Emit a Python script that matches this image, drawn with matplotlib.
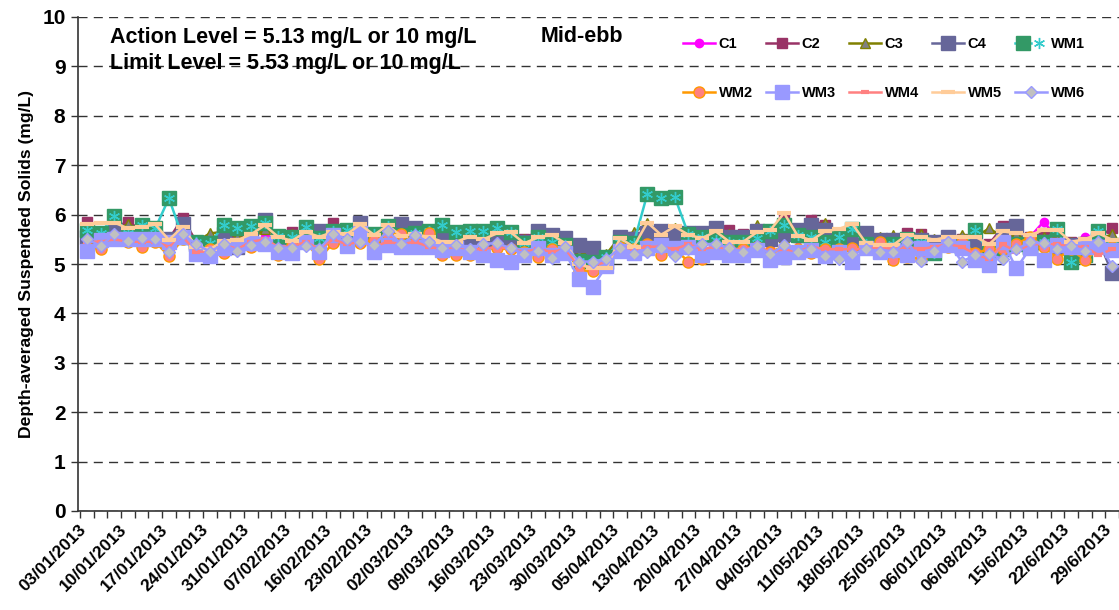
import matplotlib
matplotlib.use("Agg")
import matplotlib.pyplot as plt
from matplotlib.legend_handler import HandlerTuple

plt.rcParams['font.family'] = ['Liberation Sans', 'DejaVu Sans']
plt.rcParams['font.weight'] = 'bold'

dates = ["03/01/2013", "10/01/2013", "17/01/2013", "24/01/2013", "31/01/2013",
         "07/02/2013", "16/02/2013", "23/02/2013", "02/03/2013", "09/03/2013",
         "16/03/2013", "23/03/2013", "30/03/2013", "05/04/2013", "13/04/2013",
         "20/04/2013", "27/04/2013", "04/05/2013", "11/05/2013", "18/05/2013",
         "25/05/2013", "06/01/2013", "06/08/2013", "15/6/2013", "22/6/2013",
         "29/6/2013"]
n_points = 76

C1 = [5.55,5.58,5.62,5.55,5.55,5.50,5.45,5.55,5.40,5.40,5.50,5.45,5.45,5.55,5.50,
      5.50,5.55,5.45,5.55,5.50,5.55,5.45,5.55,5.50,5.55,5.45,5.50,5.45,5.45,5.45,
      5.50,5.45,5.40,5.50,5.45,5.40,5.15,5.20,5.10,5.45,5.45,5.55,5.55,5.50,5.50,
      5.45,5.50,5.50,5.45,5.50,5.39,5.55,5.50,5.55,5.55,5.45,5.45,5.45,5.40,5.45,
      5.45,5.50,5.40,5.50,5.45,5.40,5.40,5.55,5.50,5.55,5.86,5.50,5.45,5.55,5.45,5.50]
C2 = [5.86,5.65,5.75,5.85,5.70,5.65,5.50,5.93,5.45,5.40,5.60,5.50,5.45,5.80,5.55,
      5.64,5.60,5.60,5.84,5.60,5.65,5.55,5.65,5.62,5.65,5.55,5.61,5.55,5.55,5.55,
      5.60,5.55,5.50,5.68,5.55,5.55,5.18,5.25,5.10,5.50,5.55,5.60,5.62,5.60,5.55,
      5.55,5.60,5.69,5.60,5.60,5.55,5.96,5.60,5.89,5.79,5.50,5.55,5.55,5.50,5.50,
      5.62,5.60,5.45,5.55,5.50,5.45,5.40,5.76,5.60,5.55,5.62,5.50,5.45,5.45,5.55,5.72]
C3 = [5.65,5.60,5.70,5.80,5.70,5.60,5.45,5.70,5.45,5.62,5.65,5.55,5.50,5.70,5.60,
      5.60,5.72,5.55,5.60,5.60,5.65,5.55,5.80,5.58,5.60,5.55,5.72,5.55,5.55,5.55,
      5.60,5.55,5.50,5.60,5.55,5.50,5.20,5.25,5.20,5.55,5.64,5.82,5.62,5.72,5.60,
      5.55,5.55,5.60,5.55,5.78,5.55,5.55,5.55,5.78,5.82,5.55,5.55,5.50,5.55,5.59,
      5.55,5.60,5.50,5.50,5.59,5.55,5.72,5.55,5.60,5.50,5.55,5.50,5.45,5.45,5.50,5.60]
C4 = [5.55,5.60,5.68,5.62,5.60,5.55,5.50,5.80,5.40,5.35,5.60,5.35,5.50,5.90,5.50,
      5.50,5.62,5.66,5.55,5.55,5.82,5.50,5.60,5.80,5.72,5.55,5.55,5.50,5.55,5.50,
      5.50,5.45,5.45,5.66,5.59,5.52,5.38,5.33,5.05,5.55,5.50,5.62,5.66,5.59,5.62,
      5.62,5.72,5.55,5.55,5.66,5.50,5.60,5.69,5.79,5.69,5.50,5.40,5.62,5.49,5.49,
      5.49,5.49,5.45,5.55,5.45,5.40,5.25,5.69,5.76,5.35,5.45,5.35,5.38,5.40,5.49,4.81]
WM1 = [5.69,5.62,5.98,5.62,5.78,5.72,6.33,5.55,5.45,5.42,5.78,5.72,5.76,5.84,5.57,
       5.55,5.74,5.52,5.66,5.69,5.60,5.60,5.76,5.59,5.62,5.66,5.79,5.64,5.66,5.66,
       5.72,5.64,5.42,5.54,5.45,5.38,5.07,5.05,5.15,5.45,5.42,6.42,6.33,6.36,5.60,
       5.55,5.49,5.45,5.45,5.52,5.66,5.79,5.59,5.55,5.45,5.55,5.71,5.40,5.35,5.40,
       5.50,5.45,5.22,5.40,5.35,5.68,5.22,5.30,5.40,5.35,5.45,5.71,5.05,5.18,5.66,5.39]
WM2 = [5.35,5.30,5.50,5.45,5.35,5.45,5.16,5.50,5.35,5.30,5.22,5.35,5.35,5.40,5.18,
       5.38,5.45,5.11,5.42,5.40,5.43,5.48,5.59,5.61,5.45,5.62,5.18,5.18,5.18,5.30,
       5.32,5.30,5.25,5.15,5.30,5.35,4.86,4.86,5.00,5.35,5.30,5.40,5.18,5.30,5.05,
       5.11,5.30,5.30,5.30,5.35,5.25,5.35,5.30,5.22,5.30,5.30,5.32,5.35,5.45,5.08,
       5.15,5.11,5.30,5.35,5.45,5.22,5.30,5.30,5.40,5.55,5.35,5.11,5.30,5.08,5.30,5.35]
WM3 = [5.26,5.48,5.50,5.50,5.50,5.50,5.45,5.55,5.20,5.17,5.32,5.38,5.42,5.40,5.25,
       5.23,5.45,5.25,5.59,5.36,5.62,5.25,5.38,5.35,5.35,5.35,5.28,5.32,5.25,5.18,
       5.09,5.05,5.18,5.32,5.18,5.22,4.70,4.54,4.96,5.27,5.22,5.32,5.38,5.32,5.35,
       5.18,5.25,5.18,5.18,5.28,5.09,5.14,5.25,5.28,5.16,5.25,5.05,5.32,5.25,5.28,
       5.18,5.32,5.28,5.38,5.32,5.08,4.98,5.45,4.91,5.32,5.08,5.38,5.35,5.35,5.35,5.28]
WM4 = [5.45,5.45,5.50,5.45,5.45,5.45,5.35,5.55,5.25,5.25,5.40,5.30,5.45,5.50,5.35,
       5.35,5.45,5.30,5.50,5.40,5.45,5.35,5.45,5.40,5.45,5.35,5.30,5.35,5.30,5.30,
       5.35,5.30,5.25,5.30,5.25,5.30,4.95,4.95,5.05,5.35,5.30,5.35,5.35,5.30,5.40,
       5.30,5.35,5.30,5.30,5.35,5.25,5.30,5.25,5.35,5.30,5.30,5.30,5.30,5.35,5.30,
       5.35,5.30,5.35,5.40,5.35,5.20,5.10,5.40,5.25,5.40,5.40,5.40,5.35,5.35,5.18,5.30]
WM5 = [5.80,5.82,5.84,5.72,5.75,5.80,5.49,5.75,5.35,5.30,5.47,5.48,5.60,5.78,5.55,
       5.47,5.65,5.55,5.65,5.60,5.80,5.59,5.78,5.57,5.60,5.55,5.45,5.45,5.55,5.50,
       5.62,5.64,5.42,5.54,5.59,5.42,5.00,4.91,4.91,5.52,5.35,5.84,5.59,5.76,5.59,
       5.52,5.66,5.45,5.45,5.64,5.69,6.03,5.57,5.48,5.66,5.71,5.81,5.42,5.39,5.39,
       5.59,5.55,5.49,5.55,5.55,5.55,5.40,5.66,5.62,5.59,5.69,5.69,5.45,5.50,5.62,5.49]
WM6 = [5.51,5.36,5.60,5.46,5.53,5.50,5.24,5.60,5.40,5.25,5.40,5.26,5.38,5.44,5.33,
       5.33,5.36,5.30,5.61,5.51,5.44,5.38,5.67,5.40,5.59,5.44,5.33,5.39,5.30,5.41,
       5.42,5.32,5.20,5.26,5.13,5.34,5.05,5.05,5.10,5.32,5.20,5.25,5.32,5.17,5.30,
       5.40,5.41,5.32,5.25,5.37,5.20,5.38,5.25,5.30,5.17,5.10,5.20,5.30,5.25,5.25,
       5.45,5.06,5.26,5.44,5.05,5.18,5.20,5.10,5.30,5.44,5.42,5.30,5.37,5.26,5.44,4.96]

W, H = 1119, 610
fig = plt.figure(figsize=(W / 100, H / 100), dpi=100)
ax = fig.add_axes([78 / W, 1 - 511 / H, (1119 - 78) / W, (511 - 17) / H])

x = list(range(n_points))
lw = 1.8
styles = [
    ("C1", C1, dict(color="#FF00FF", marker="o", ms=6, mfc="#FF00FF", mec="#FF00FF")),
    ("C2", C2, dict(color="#993366", marker="s", ms=7, mfc="#993366", mec="#993366")),
    ("C3", C3, dict(color="#808000", marker="^", ms=7, mfc="#808080", mec="#808000", mew=1)),
    ("C4", C4, dict(color="#666699", marker="s", ms=10, mfc="#666699", mec="#666699")),
    ("WM1", WM1, dict(color="#33CCCC", marker="s", ms=10, mfc="#339966", mec="#339966")),
    ("WM2", WM2, dict(color="#FF9900", marker="o", ms=8, mfc="#FF8080", mec="#FF9900", mew=1)),
    ("WM3", WM3, dict(color="#9999FF", marker="s", ms=10, mfc="#9999FF", mec="#9999FF")),
    ("WM4", WM4, dict(color="#FF8080", marker="_", ms=6, mec="#FF8080", mew=3)),
    ("WM5", WM5, dict(color="#FFCC99", marker="_", ms=10, mec="#FFCC99", mew=3)),
    ("WM6", WM6, dict(color="#9999FF", marker="D", ms=6.5, mfc="#C0C0C0", mec="#9999FF", mew=1)),
]
handles = {}
for k, (name, vals, st) in enumerate(styles):
    z = 3 + k * 0.1
    ln, = ax.plot(x, vals, lw=lw, zorder=z, label=name, clip_on=False, **st)
    handles[name] = ln
    if name == "WM1":
        star, = ax.plot(x, vals, ls="none", marker=(6, 2, 0), ms=8, mec="#33CCCC",
                        mew=1, zorder=z + 0.05, clip_on=False)
        handles[name] = (ln, star)

ax.set_xlim(-0.5, n_points - 0.5)
ax.set_ylim(0, 10)
ax.set_yticks(range(0, 11))
ax.set_yticklabels([str(v) for v in range(0, 11)], fontsize=15, fontweight="bold")
ax.yaxis.grid(True, color="#333333", lw=1.0, linestyle=(0, (6.5, 4.5)))
ax.set_axisbelow(True)

# label anchors sit slightly left of the category centre, as in the original layout
label_offset = 0.65
ax.set_xticks([i - label_offset for i in range(0, n_points, 3)])
ax.set_xticklabels(dates, rotation=45, ha="right", va="top", rotation_mode="anchor",
                   fontsize=12.5, fontweight="bold")
ax.set_xticks([i - 0.5 for i in range(n_points + 1)], minor=True)
ax.tick_params(axis="x", which="major", length=0, pad=8)
ax.tick_params(axis="x", which="minor", length=5, width=1, color="#333333", direction="out")
ax.tick_params(axis="y", length=5, width=1, color="#333333", pad=4)

for s in ["top", "right"]:
    ax.spines[s].set_visible(False)
for s in ["left", "bottom"]:
    ax.spines[s].set_color("#333333")
    ax.spines[s].set_linewidth(1.2)

ax.set_ylabel("Depth-averaged Suspended Solids (mg/L)", fontsize=12.6, fontweight="bold", labelpad=6)

fig.text(110 / W, 1 - 37 / H, "Action Level = 5.13 mg/L or 10 mg/L", fontsize=15.5,
         fontweight="bold", va="center", ha="left")
fig.text(110 / W, 1 - 64 / H, "Limit Level = 5.53 mg/L or 10 mg/L", fontsize=15.5,
         fontweight="bold", va="center", ha="left")
fig.text(541 / W, 1 - 37 / H, "Mid-ebb", fontsize=15.5, fontweight="bold", va="center", ha="left")

order = ["C1", "WM2", "C2", "WM3", "C3", "WM4", "C4", "WM5", "WM1", "WM6"]
leg = fig.legend([handles[o] for o in order], order, loc="upper left",
                 bbox_to_anchor=(683 / W, 1 - 37 / H), ncol=5, frameon=False,
                 fontsize=10.5, handlelength=2.2, handletextpad=0.25, columnspacing=0.9,
                 labelspacing=2.4, borderpad=0, borderaxespad=0, numpoints=1,
                 handler_map={tuple: HandlerTuple(ndivide=None)})
for t in leg.get_texts():
    t.set_fontweight("bold")

fig.savefig("out.png", dpi=100)
